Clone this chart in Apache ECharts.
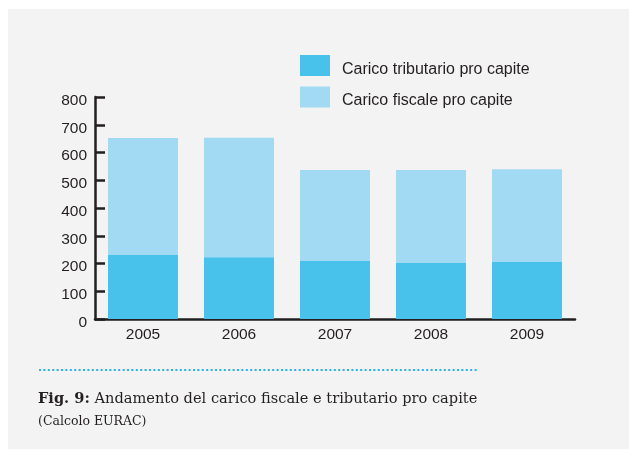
<!DOCTYPE html>
<html>
<head>
<meta charset="utf-8">
<script src="https://cdn.jsdelivr.net/npm/echarts@6/dist/echarts.min.js"></script>
<style>
  html, body { margin: 0; padding: 0; background: #ffffff; }
  #panel { position: absolute; left: 8px; top: 9px; width: 621px; height: 440px; background: #f3f3f3; }
  #chart { position: absolute; left: 0; top: 0; width: 629px; height: 451px; }
</style>
</head>
<body>
<div id="panel"></div>
<div id="chart"></div>
<script>
  // dati
  const years = ['2005', '2006', '2007', '2008', '2009']
  const tributario = [231, 222, 209, 202, 205]
  const fiscale = [652, 653, 537, 537, 540]
  const nameTrib = 'Carico tributario pro capite'
  const nameFisc = 'Carico fiscale pro capite'

  const ink = '#231f20'
  const font = "'Liberation Sans', Arial, sans-serif"
  const serif = "'DejaVu Serif', serif"

  const myChart = echarts.init(document.getElementById('chart'))
  const option = {
    backgroundColor: 'transparent',
    animation: false,
    textStyle: { fontFamily: font },
    legend: {
      data: [nameTrib, nameFisc],
      orient: 'vertical',
      left: 300,
      top: 55,
      padding: 0,
      itemWidth: 30,
      itemHeight: 21,
      itemGap: 9,
      icon: 'rect',
      formatter: '{t|{name}}',
      textStyle: {
        fontSize: 16, color: ink, fontFamily: font,
        rich: { t: { fontSize: 16, color: ink, fontFamily: font, padding: [8, 0, 0, 7] } }
      }
    },
    grid: { left: 95, right: 54, top: 97, bottom: 132 },
    xAxis: {
      type: 'category',
      data: years,
      axisLine: { lineStyle: { color: ink, width: 2.5 } },
      axisTick: { inside: true, length: 4, lineStyle: { color: ink, width: 2 } },
      axisLabel: { fontSize: 15.5, color: ink, margin: 8, fontFamily: font }
    },
    yAxis: {
      type: 'value',
      min: 0,
      max: 800,
      interval: 100,
      axisLine: { show: true, lineStyle: { color: ink, width: 2.5 } },
      axisTick: { show: true, inside: true, length: 10, lineStyle: { color: ink, width: 2.5 } },
      axisLabel: {
        color: ink, margin: 8,
        formatter: '{v|{value}}',
        rich: { v: { fontSize: 15.5, color: ink, fontFamily: font, padding: [7, 0, 0, 0] } }
      },
      splitLine: { show: false }
    },
    series: [
      {
        name: nameFisc,
        type: 'bar',
        data: fiscale,
        barWidth: 70,
        itemStyle: { color: '#a3daf3' }
      },
      {
        name: nameTrib,
        type: 'bar',
        data: tributario,
        barWidth: 70,
        barGap: '-100%',
        itemStyle: { color: '#48c1eb' }
      }
    ],
    graphic: [
      {
        type: 'line',
        shape: { x1: 39, y1: 370, x2: 478, y2: 370 },
        style: { stroke: '#29b3e6', lineWidth: 2, lineDash: [2, 2.4] }
      },
      {
        type: 'text',
        left: 38,
        top: 392,
        style: {
          text: '{b|Fig. 9:} Andamento del carico fiscale e tributario pro capite',
          font: '14.6px ' + serif,
          fill: ink,
          rich: {
            b: { fontWeight: 'bold', fontSize: 14.6, fontFamily: serif, fill: ink }
          }
        }
      },
      {
        type: 'text',
        left: 38,
        top: 415,
        style: {
          text: '(Calcolo EURAC)',
          font: '12.5px ' + serif,
          fill: ink
        }
      }
    ]
  }
  myChart.setOption(option)
</script>
</body>
</html>
